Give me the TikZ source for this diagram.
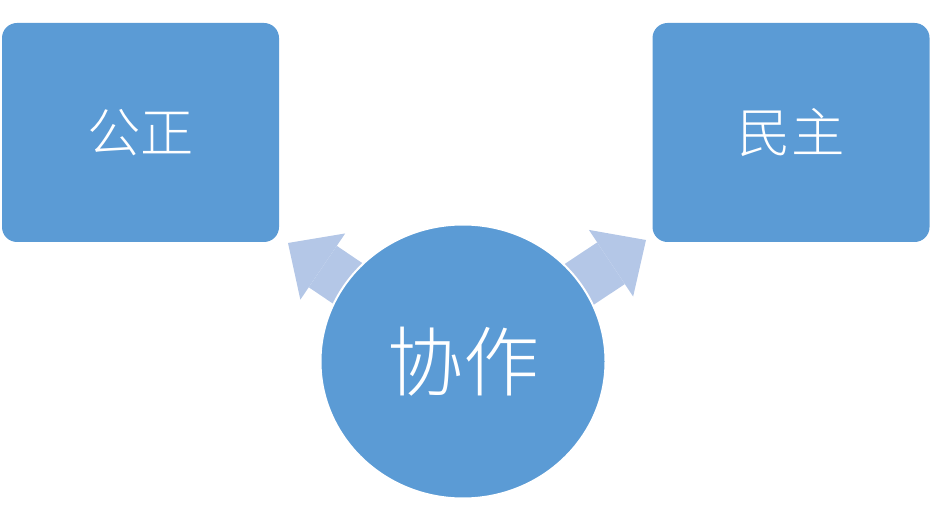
\documentclass[tikz,border=0pt]{standalone}
\usepackage{fontspec}
\usepackage{xcolor}
\usepackage{tikz}
\usetikzlibrary{arrows.meta}
\usetikzlibrary{shapes.geometric, positioning, backgrounds}
\IfFontExistsTF{Noto Sans CJK SC Light}
	{\newfontfamily\cjk{Noto Sans CJK SC Light}}
	{\newfontfamily\cjk{Noto Sans CJK SC}}
\definecolor{boxblue}{HTML}{5B9BD5}
\definecolor{arrowblue}{HTML}{B4C7E7}

\begin{document}
\begin{tikzpicture} [
	x=0.75pt, y=-0.75pt, % one unit is one pixel of the reference, y runs down
	box/.style={rectangle, rounded corners=11.25pt, fill=boxblue, text=white,
		minimum width=207.75pt, minimum height=164.25pt,
		font=\cjk\fontsize{40}{48}\selectfont}, % the two square blocks
	hub/.style={ellipse, fill=boxblue, draw=white, line width=1.5pt, text=white,
		minimum width=213.75pt, minimum height=205.5pt, inner sep=0pt,
		font=\cjk\fontsize{57}{64}\selectfont}, % the round block in the middle
	bigarrow/.style={arrowblue, line width=37.5pt,
		-{Triangle[width=60pt, length=31.5pt, line width=0pt]}}, % the broad arrows
	]
	\useasboundingbox (0,0) rectangle (931,516);
	\node[box] (gong) at (140.5,132.5) {\raisebox{2pt}{公正}};
	\node[box, right=279.75pt of gong] (min) {\raisebox{2pt}{民主}};
	\node[hub] (hub) at (463,361.5) {\raisebox{4pt}{协作}};
	\coordinate (tipL) at (288,243);
	\coordinate (tipR) at (646,240);
	\begin{scope}[on background layer]
		\draw[bigarrow] (hub.center) -- (tipL);
		\draw[bigarrow] (hub.center) -- (tipR);
	\end{scope}
\end{tikzpicture}
\end{document}
